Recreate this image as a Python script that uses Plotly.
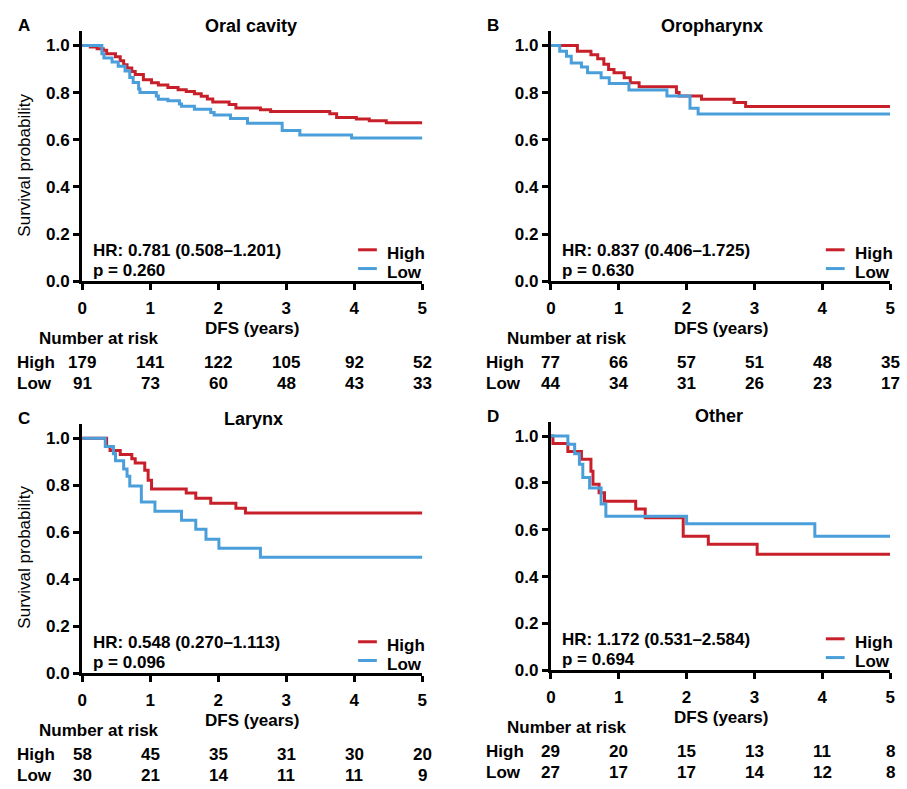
import plotly.graph_objects as go

W, H = 907, 789
FONT = "Liberation Sans, Arial, Helvetica, sans-serif"
RED = "#C8202A"
BLUE = "#4A9FDB"

# ---------------- data ----------------
panel_letters = ["A", "B", "C", "D"]
panel_titles = ["Oral cavity", "Oropharynx", "Larynx", "Other"]
group_names = ["High", "Low"]
hr_texts = ["HR: 0.781 (0.508–1.201)", "HR: 0.837 (0.406–1.725)",
            "HR: 0.548 (0.270–1.113)", "HR: 1.172 (0.531–2.584)"]
p_texts = ["p = 0.260", "p = 0.630", "p = 0.096", "p = 0.694"]
risk_times = [0, 1, 2, 3, 4, 5]
x_ticks = [0, 1, 2, 3, 4, 5]
y_ticks = [0.0, 0.2, 0.4, 0.6, 0.8, 1.0]

oral_high_t = [0, 0.12, 0.22, 0.31, 0.36, 0.49, 0.56, 0.61, 0.66, 0.73, 0.78, 0.90, 1.02, 1.12, 1.26,
               1.41, 1.53, 1.65, 1.75, 1.84, 1.92, 2.16, 2.26, 2.62, 2.77, 3.64, 3.74, 4.03, 4.22, 4.47, 5.0]
oral_high_s = [1.0, 0.993, 0.986, 0.98, 0.965, 0.952, 0.935, 0.918, 0.904, 0.89, 0.877, 0.855, 0.842, 0.832, 0.822,
               0.812, 0.805, 0.795, 0.785, 0.773, 0.76, 0.75, 0.735, 0.727, 0.72, 0.71, 0.695, 0.688, 0.681, 0.672, 0.672]
oral_low_t = [0, 0.29, 0.32, 0.44, 0.53, 0.63, 0.70, 0.75, 0.83, 0.85, 1.09, 1.12, 1.26, 1.43, 1.46,
              1.65, 1.89, 1.94, 2.18, 2.43, 2.94, 3.20, 3.96, 5.0]
oral_low_s = [1.0, 0.965, 0.947, 0.93, 0.912, 0.892, 0.864, 0.843, 0.815, 0.80, 0.786, 0.772, 0.766, 0.752, 0.742,
              0.73, 0.716, 0.705, 0.69, 0.67, 0.639, 0.62, 0.608, 0.608]

oro_high_t = [0, 0.39, 0.59, 0.69, 0.78, 0.85, 0.93, 1.08, 1.17, 1.30, 1.85, 1.89, 2.22, 2.70, 2.87, 5.0]
oro_high_s = [1.0, 0.975, 0.96, 0.943, 0.92, 0.898, 0.884, 0.863, 0.842, 0.825, 0.80, 0.786, 0.772, 0.758, 0.741, 0.741]
oro_low_t = [0, 0.13, 0.23, 0.30, 0.45, 0.54, 0.74, 0.86, 1.15, 1.71, 2.05, 2.17, 5.0]
oro_low_s = [1.0, 0.975, 0.954, 0.926, 0.909, 0.884, 0.863, 0.839, 0.811, 0.786, 0.734, 0.709, 0.709]

lar_high_t = [0, 0.36, 0.41, 0.56, 0.73, 0.78, 0.92, 0.97, 1.02, 1.53, 1.67, 1.89, 2.26, 2.40, 5.0]
lar_high_s = [1.0, 0.965, 0.948, 0.931, 0.913, 0.895, 0.864, 0.822, 0.785, 0.767, 0.745, 0.724, 0.703, 0.682, 0.682]
lar_low_t = [0, 0.34, 0.46, 0.49, 0.61, 0.66, 0.70, 0.87, 1.07, 1.46, 1.67, 1.82, 2.01, 2.62, 5.0]
lar_low_s = [1.0, 0.965, 0.935, 0.905, 0.87, 0.839, 0.797, 0.729, 0.69, 0.652, 0.613, 0.571, 0.532, 0.494, 0.494]

oth_high_t = [0, 0.03, 0.25, 0.45, 0.59, 0.62, 0.71, 0.79, 1.25, 1.39, 1.95, 2.32, 3.04, 5.0]
oth_high_s = [1.0, 0.968, 0.934, 0.901, 0.85, 0.795, 0.758, 0.722, 0.689, 0.651, 0.572, 0.538, 0.496, 0.496]
oth_low_t = [0, 0.25, 0.35, 0.42, 0.47, 0.57, 0.74, 0.81, 2.00, 3.89, 5.0]
oth_low_s = [1.0, 0.965, 0.925, 0.88, 0.823, 0.778, 0.71, 0.658, 0.626, 0.572, 0.572]

oral_risk_high = [179, 141, 122, 105, 92, 52]
oral_risk_low = [91, 73, 60, 48, 43, 33]
oro_risk_high = [77, 66, 57, 51, 48, 35]
oro_risk_low = [44, 34, 31, 26, 23, 17]
lar_risk_high = [58, 45, 35, 31, 30, 20]
lar_risk_low = [30, 21, 14, 11, 11, 9]
oth_risk_high = [29, 20, 15, 13, 11, 8]
oth_risk_low = [27, 17, 17, 14, 12, 8]

curves = [
    ((oral_high_t, oral_high_s), (oral_low_t, oral_low_s)),
    ((oro_high_t, oro_high_s), (oro_low_t, oro_low_s)),
    ((lar_high_t, lar_high_s), (lar_low_t, lar_low_s)),
    ((oth_high_t, oth_high_s), (oth_low_t, oth_low_s)),
]
risks = [(oral_risk_high, oral_risk_low), (oro_risk_high, oro_risk_low),
         (lar_risk_high, lar_risk_low), (oth_risk_high, oth_risk_low)]

# ---------------- layout geometry (pixels) ----------------
# (x_left, x_right, y_zero, y_one)
geom = [(78, 422, 285, 46), (552, 895, 285, 46), (78, 422, 682, 444), (552, 895, 679, 441.7)]
title_x = [249, 715, 251, 722]
YMAX = 1.06
TY = 4  # visual offset of text baseline


def pxx(p):
    return p / W


def pxy(p):
    return 1 - (p + TY) / H


fig = go.Figure()
annotations = []
shapes = []


def txt(x, y, s, anchor="left", size=17, bold=True, xref="paper", angle=0):
    return dict(x=x, y=y, xref=xref, yref="paper", text=("<b>%s</b>" % s) if bold else s,
                showarrow=False, xanchor=anchor, yanchor="middle", textangle=angle,
                font=dict(family=FONT, size=size, color="black"))


for i in range(4):
    xl, xr, y0, y1 = geom[i]
    ytop = y0 - (y0 - y1) * YMAX
    sfx = "" if i == 0 else str(i + 1)
    xa, ya = "x" + sfx, "y" + sfx
    cols = [RED, BLUE]
    for g in range(2):
        t, s = curves[i][g]
        fig.add_trace(go.Scatter(x=t, y=s, mode="lines", line=dict(color=cols[g], width=3, shape="hv"),
                                 xaxis=xa, yaxis=ya, showlegend=False, hoverinfo="skip"))
    axcommon = dict(showgrid=False, zeroline=False, showline=True, linecolor="black", linewidth=3,
                    ticks="outside", ticklen=6, tickwidth=3, tickcolor="black",
                    tickfont=dict(family=FONT, size=17, color="black", weight="bold"))
    fig.update_layout(**{
        "xaxis" + sfx: dict(domain=[pxx(xl), pxx(xr)], range=[0, 5], tickvals=x_ticks,
                            anchor=ya, ticklabelstandoff=3, **axcommon),
        "yaxis" + sfx: dict(domain=[1 - y0 / H, 1 - ytop / H], range=[0, YMAX], tickvals=y_ticks,
                            tickformat=".1f", anchor=xa, **axcommon),
    })
    ty = y1 - 24
    annotations.append(txt(pxx(xl - 59), pxy(ty), panel_letters[i], anchor="center"))
    annotations.append(txt(pxx(title_x[i]), pxy(ty), panel_titles[i], anchor="center", size=18))
    annotations.append(txt(pxx((xl + xr) / 2), pxy(y0 + 44), "DFS (years)", anchor="center"))
    if i in (0, 2):
        annotations.append(txt(pxx(20), pxy(y0 - 122), "Survival probability", anchor="center",
                               bold=False, angle=-90))
    annotations.append(txt(pxx(xl + 9), pxy(y0 - 35), hr_texts[i]))
    annotations.append(txt(pxx(xl + 9), pxy(y0 - 15), p_texts[i]))
    for g in range(2):
        ly = y0 - 32 + 19 * g
        shapes.append(dict(type="line", xref="paper", yref="paper", x0=pxx(xr - 65), x1=pxx(xr - 46),
                           y0=1 - ly / H, y1=1 - ly / H, line=dict(color=cols[g], width=3)))
        annotations.append(txt(pxx(xr - 38), pxy(ly), group_names[g]))
    annotations.append(txt(pxx(xl - 46), pxy(y0 + 54), "Number at risk"))
    for g in range(2):
        ry = y0 + 78 + 21 * g
        annotations.append(txt(pxx(xl - 68), pxy(ry), group_names[g]))
        for tt, n in zip(risk_times, risks[i][g]):
            annotations.append(txt(tt, pxy(ry), "%d" % n, anchor="center", xref=xa))

fig.update_layout(width=W, height=H, margin=dict(l=0, r=0, t=0, b=0),
                  paper_bgcolor="white", plot_bgcolor="white",
                  annotations=annotations, shapes=shapes, showlegend=False)

fig.write_html("out.html", config={"responsive": False, "displayModeBar": False},
               post_script="document.body.style.margin='0px';document.body.style.overflow='hidden';")
